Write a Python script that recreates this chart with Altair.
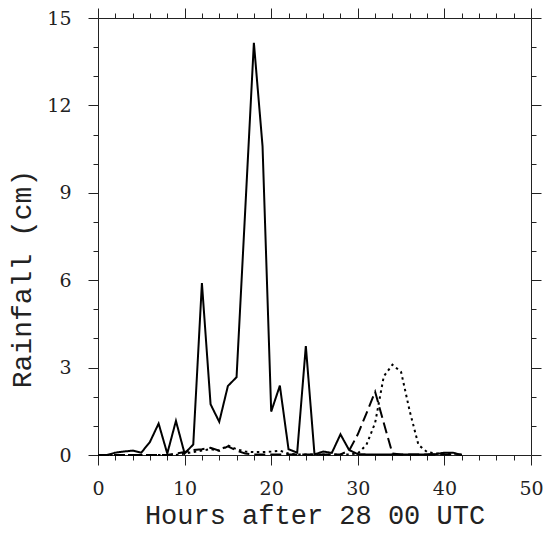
import altair as alt
import pandas as pd

hours = list(range(0, 43))
solid = [0, 0, 0.08, 0.12, 0.15, 0.08, 0.45, 1.08, 0.05, 1.17,
         0.05, 0.36, 5.9, 1.74, 1.14, 2.37, 2.67, 8.4, 14.15, 10.6,
         1.49, 2.38, 0.2, 0.08, 3.74, 0.02, 0.12, 0.07, 0.71, 0.17,
         0.03, 0.02, 0.02, 0.02, 0.02, 0.02, 0.02, 0.02, 0.02, 0.03,
         0.08, 0.08, 0.0]
dashed = [0, 0, 0, 0, 0, 0, 0, 0, 0, 0.05,
          0.1, 0.17, 0.2, 0.25, 0.15, 0.3, 0.15, 0.05, 0.02, 0.02,
          0.02, 0.02, 0.02, 0.02, 0.02, 0.02, 0.02, 0.02, 0.02, 0.15,
          0.71, 1.43, 2.17, 1.1, 0.05, 0.02, 0.02, 0.02, 0.02, 0.02,
          0.02, 0.02, 0.02]
dotted = [0, 0, 0, 0, 0, 0, 0, 0, 0, 0,
          0.05, 0.1, 0.15, 0.2, 0.15, 0.33, 0.2, 0.12, 0.1, 0.1,
          0.12, 0.15, 0.05, 0.02, 0.02, 0.02, 0.02, 0.02, 0.02, 0.02,
          0.05, 0.35, 1.1, 2.7, 3.1, 2.85, 1.5, 0.35, 0.1, 0.05,
          0.06, 0.06, 0.0]

x_ticks = list(range(0, 51, 2))
y_ticks = list(range(0, 16, 1))

series_names = ["solid", "dashed", "dotted"]
rows = []
for name, vals in zip(series_names, [solid, dashed, dotted]):
    for h, v in zip(hours, vals):
        rows.append({"hour": h, "rain": v, "series": name})
df = pd.DataFrame(rows)

LFONT = "DejaVu Serif"
TFONT = "Liberation Mono"
TXT = "#222222"
PLOT_H = 437

def xaxis(orient, labels):
    kw = dict(
        orient=orient,
        values=x_ticks,
        tickSize={"condition": {"test": "datum.value % 10 === 0", "value": 10}, "value": 5},
        grid=False,
        domainColor="#222222",
        tickColor="#222222",
        domainWidth=1,
        tickWidth=1,
    )
    if labels:
        kw.update(
            labelExpr="datum.value % 10 === 0 ? datum.label : ''",
            labelFont=LFONT, labelFontSize=19, labelColor=TXT,
            labelPadding=14, labelFlush=False, labelOverlap=False,
            title="Hours after 28 00 UTC", titleFont=TFONT, titleFontSize=27,
            titleFontWeight="normal", titleColor=TXT, titlePadding=4,
        )
    else:
        kw.update(labels=False, title=None)
    return alt.Axis(**kw)

def yaxis(orient, labels):
    kw = dict(
        orient=orient,
        values=y_ticks,
        tickSize={"condition": {"test": "datum.value % 3 === 0", "value": 10}, "value": 5},
        grid=False,
        domainColor="#222222",
        tickColor="#222222",
        domainWidth=1,
        tickWidth=1,
    )
    if labels:
        kw.update(
            labelExpr="datum.value % 3 === 0 ? datum.label : ''",
            labelFont=LFONT, labelFontSize=19, labelColor=TXT,
            labelPadding=17, labelFlush=False, labelOverlap=False,
            title="Rainfall (cm)", titleFont=TFONT, titleFontSize=28,
            titleFontWeight="normal", titleColor=TXT, titlePadding=10,
            titleY=PLOT_H / 2 + 42,
        )
    else:
        kw.update(labels=False, title=None)
    return alt.Axis(**kw)

xscale = alt.Scale(domain=[0, 50], nice=False, zero=False)
yscale = alt.Scale(domain=[0, 15], nice=False, zero=False)

dash_scale = alt.Scale(domain=series_names, range=[[1, 0], [11, 5], [2.5, 3.5]])

main = alt.Chart(df).mark_line(color="black", strokeWidth=2).encode(
    x=alt.X("hour:Q", scale=xscale, axis=xaxis("bottom", True)),
    y=alt.Y("rain:Q", scale=yscale, axis=yaxis("left", True)),
    strokeDash=alt.StrokeDash("series:N", scale=dash_scale, legend=None),
    detail="series:N",
)

mirror = alt.Chart(df).mark_line(opacity=0).encode(
    x=alt.X("hour:Q", scale=xscale, axis=xaxis("top", False)),
    y=alt.Y("rain:Q", scale=yscale, axis=yaxis("right", False)),
    detail="series:N",
)

chart = alt.layer(main, mirror).resolve_axis(x="independent", y="independent").properties(
    width=433,
    height=PLOT_H,
    autosize=alt.AutoSizeParams(type="none"),
    padding={"left": 90, "top": 10, "right": 12, "bottom": 75},
).configure_view(stroke=None)

chart.save("out.html", embed_options={"renderer": "svg", "actions": False})
